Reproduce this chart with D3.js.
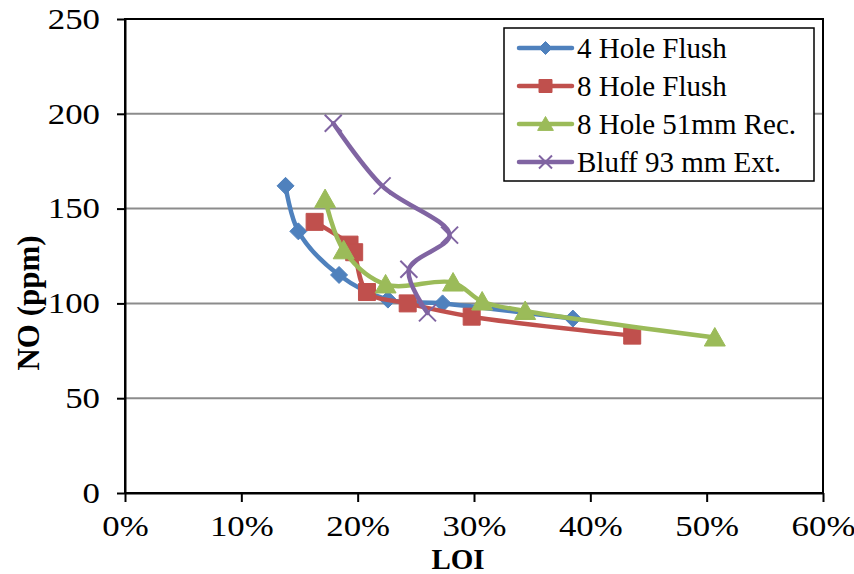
<!DOCTYPE html>
<html>
<head>
<meta charset="utf-8">
<script src="https://cdn.jsdelivr.net/npm/d3@7"></script>
<style>
  html, body { margin: 0; padding: 0; background: #fff; }
  svg { display: block; }
  text { font-family: "Liberation Serif", "Times New Roman", serif; fill: #000; }
</style>
</head>
<body>
<svg id="chart" width="854" height="574"></svg>
<script>
// LOI (fraction) and NO (ppm) for each burner configuration
const seriesNames = ["4 Hole Flush", "8 Hole Flush", "8 Hole 51mm Rec.", "Bluff 93 mm Ext."];
const hole4FlushLOI = [0.138, 0.149, 0.184, 0.226, 0.273, 0.385];
const hole4FlushNO  = [162, 138, 115, 102, 100, 92];
const hole8FlushLOI = [0.163, 0.193, 0.197, 0.208, 0.243, 0.298, 0.436];
const hole8FlushNO  = [143, 131, 127, 106, 100, 93, 83];
const hole8RecLOI   = [0.172, 0.188, 0.224, 0.282, 0.307, 0.344, 0.507];
const hole8RecNO    = [155, 128, 110, 111, 101, 96, 82];
const bluffExtLOI   = [0.179, 0.221, 0.279, 0.244, 0.260];
const bluffExtNO    = [195, 162, 136, 118, 95];

const xTicks = [0, 0.1, 0.2, 0.3, 0.4, 0.5, 0.6];
const yTicks = [0, 50, 100, 150, 200, 250];

const colors  = ["#4F81BD", "#C0504D", "#9BBB59", "#8064A2"];
const markers = ["diamond", "square", "triangle", "x"];

const series = [
  [hole4FlushLOI, hole4FlushNO],
  [hole8FlushLOI, hole8FlushNO],
  [hole8RecLOI, hole8RecNO],
  [bluffExtLOI, bluffExtNO]
].map(([xs, ys], i) => ({
  name: seriesNames[i],
  color: colors[i],
  marker: markers[i],
  points: xs.map((x, j) => ({ x, y: ys[j] }))
}));

const svg = d3.select("#chart");
const plotLeft = 125, plotRight = 823, plotTop = 19, plotBottom = 493;
const tickStretch = 1.2; // tick numerals are set slightly wide

const x = d3.scaleLinear().domain([0, 0.6]).range([plotLeft, plotRight]);
const y = d3.scaleLinear().domain([0, 250]).range([plotBottom, plotTop]);

// horizontal gridlines
svg.append("g")
  .selectAll("line")
  .data(yTicks.filter(t => t > 0 && t < 250))
  .join("line")
  .attr("x1", plotLeft).attr("x2", plotRight)
  .attr("y1", d => y(d)).attr("y2", d => y(d))
  .attr("stroke", "#8c8c8c")
  .attr("stroke-width", 2);

// plot area frame
svg.append("rect")
  .attr("x", plotLeft).attr("y", plotTop)
  .attr("width", plotRight - plotLeft).attr("height", plotBottom - plotTop)
  .attr("fill", "none")
  .attr("stroke", "#000")
  .attr("stroke-width", 2);

// y axis
const yAxis = svg.append("g")
  .attr("transform", `translate(${plotLeft},0)`)
  .call(d3.axisLeft(y).tickValues(yTicks).tickSize(8).tickPadding(17).tickSizeOuter(0));
yAxis.select(".domain").attr("stroke", "#000").attr("stroke-width", 2);
yAxis.selectAll(".tick line").attr("stroke", "#000").attr("stroke-width", 2);
yAxis.selectAll(".tick text")
  .attr("font-size", 29)
  .attr("dy", "0.32em")
  .attr("x", 0)
  .attr("transform", `translate(-25,0) scale(${tickStretch},1)`)
  .attr("fill", "#000");

// x axis
const xAxis = svg.append("g")
  .attr("transform", `translate(0,${plotBottom})`)
  .call(d3.axisBottom(x).tickValues(xTicks).tickFormat(d3.format(".0%")).tickSize(9).tickPadding(13).tickSizeOuter(0));
xAxis.select(".domain").attr("stroke", "#000").attr("stroke-width", 2);
xAxis.selectAll(".tick line").attr("stroke", "#000").attr("stroke-width", 2);
xAxis.selectAll(".tick text")
  .attr("font-size", 29)
  .attr("transform", `scale(${tickStretch},1)`)
  .attr("fill", "#000");

// axis titles
svg.append("text")
  .attr("x", (plotLeft + plotRight) / 2 - 16)
  .attr("y", 569)
  .attr("text-anchor", "middle")
  .attr("font-size", 29)
  .attr("font-weight", "bold")
  .text("LOI");

svg.append("text")
  .attr("transform", `translate(39,${(plotTop + plotBottom) / 2 + 47}) rotate(-90)`)
  .attr("text-anchor", "middle")
  .attr("font-size", 31)
  .attr("font-weight", "bold")
  .text("NO (ppm)");

// marker shapes
function markerPath(type, s) {
  const h = s / 2;
  switch (type) {
    case "diamond": return `M0,${-h}L${h},0L0,${h}L${-h},0Z`;
    case "square": return `M${-h},${-h}H${h}V${h}H${-h}Z`;
    case "triangle": return `M0,${-h}L${h * 1.05},${h * 0.85}L${-h * 1.05},${h * 0.85}Z`;
    case "x": return `M${-h},${-h}L${h},${h}M${h},${-h}L${-h},${h}`;
  }
}
const markerSize = { diamond: 17, square: 17, triangle: 20, x: 17 };

function drawMarker(g, type, color, size) {
  const p = g.append("path").attr("d", markerPath(type, size));
  if (type === "x") {
    p.attr("fill", "none").attr("stroke", color).attr("stroke-width", 2);
  } else {
    p.attr("fill", color).attr("stroke", color).attr("stroke-width", 1);
  }
}

const line = d3.line()
  .x(d => x(d.x))
  .y(d => y(d.y))
  .curve(d3.curveCatmullRom.alpha(0.5));

series.forEach(s => {
  const g = svg.append("g");
  g.append("path")
    .attr("d", line(s.points))
    .attr("fill", "none")
    .attr("stroke", s.color)
    .attr("stroke-width", 4.5)
    .attr("stroke-linejoin", "round")
    .attr("stroke-linecap", "round");
  s.points.forEach(p => {
    const mg = g.append("g").attr("transform", `translate(${x(p.x)},${y(p.y)})`);
    drawMarker(mg, s.marker, s.color, markerSize[s.marker]);
  });
});

// legend
const legend = svg.append("g");
legend.append("rect")
  .attr("x", 504).attr("y", 28)
  .attr("width", 310).attr("height", 153)
  .attr("fill", "#fff")
  .attr("stroke", "#000")
  .attr("stroke-width", 1.5);

series.forEach((s, i) => {
  const cy = 48 + i * 38;
  const row = legend.append("g");
  row.append("line")
    .attr("x1", 519).attr("x2", 572)
    .attr("y1", cy).attr("y2", cy)
    .attr("stroke", s.color)
    .attr("stroke-width", 4.5)
    .attr("stroke-linecap", "round");
  const mg = row.append("g").attr("transform", `translate(545.5,${cy})`);
  drawMarker(mg, s.marker, s.color, s.marker === "triangle" ? 15 : 13);
  row.append("text")
    .attr("x", 577)
    .attr("y", cy)
    .attr("dy", "0.35em")
    .attr("font-size", 29)
    .text(s.name);
});
</script>
</body>
</html>
